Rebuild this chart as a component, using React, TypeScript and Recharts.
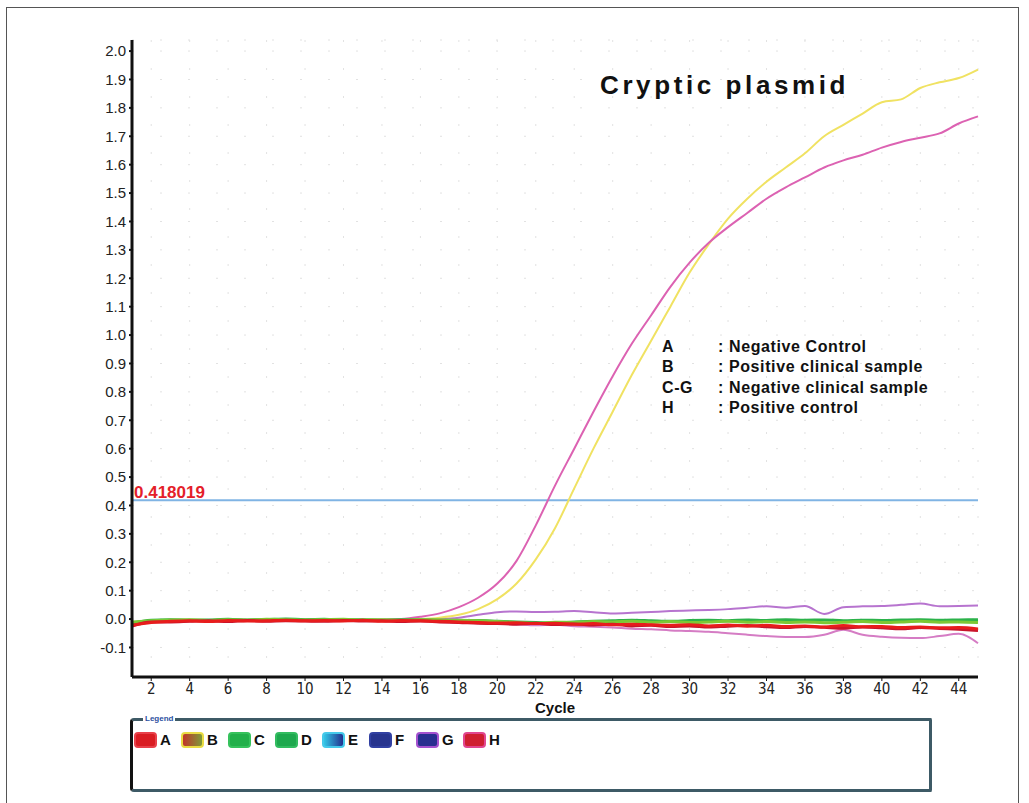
import React from 'react'
import { CartesianGrid, Legend, Line, LineChart, ReferenceLine, XAxis, YAxis } from 'recharts'

// cycle numbers on the x axis
const cycles = [
  1, 2, 3, 4, 5, 6, 7, 8, 9, 10, 11, 12, 13, 14, 15, 16, 17, 18, 19, 20, 21, 22, 23,
  24, 25, 26, 27, 28, 29, 30, 31, 32, 33, 34, 35, 36, 37, 38, 39, 40, 41, 42, 43, 44, 45,
]

// fluorescence per well
const wellA = [
  -0.022, -0.012, -0.008, -0.006, -0.009, -0.005, -0.007, -0.006, -0.004, -0.006,
  -0.005, -0.007, -0.004, -0.008, -0.005, -0.006, -0.008, -0.01, -0.012, -0.014,
  -0.013, -0.016, -0.015, -0.018, -0.016, -0.02, -0.018, -0.02, -0.022, -0.02,
  -0.024, -0.021, -0.025, -0.022, -0.026, -0.024, -0.028, -0.023, -0.027, -0.026,
  -0.03, -0.028, -0.031, -0.03, -0.035,
]
const wellB = [
  -0.015, -0.005, -0.005, -0.003, -0.004, 0.0, -0.002, -0.003, 0.0, -0.002,
  -0.003, -0.002, -0.004, -0.003, -0.002, 0.0, 0.005, 0.015, 0.035, 0.07,
  0.125, 0.21, 0.32, 0.46, 0.6, 0.73, 0.86, 0.98, 1.1, 1.22,
  1.32, 1.41, 1.48, 1.54, 1.59, 1.64, 1.7, 1.74, 1.78, 1.82,
  1.83, 1.87, 1.89, 1.905, 1.935,
]
const wellC = [
  -0.015, -0.004, -0.002, -0.004, -0.003, -0.001, -0.003, -0.002, 0.0, -0.002,
  -0.001, -0.003, -0.002, -0.004, -0.002, -0.003, -0.004, -0.006, -0.005, -0.008,
  -0.01, -0.012, -0.014, -0.01, -0.008, -0.006, -0.004, -0.006, -0.008, -0.005,
  -0.004, -0.006, -0.003, -0.005, -0.002, -0.004, -0.003, -0.006, -0.004, -0.005,
  -0.003, -0.002, -0.004, -0.003, -0.002,
]
const wellD = [
  -0.01, -0.006, -0.003, -0.002, -0.005, -0.002, -0.004, -0.001, -0.002, -0.003,
  -0.002, -0.001, -0.003, -0.002, -0.004, -0.002, -0.003, -0.004, -0.006, -0.009,
  -0.012, -0.015, -0.011, -0.012, -0.009, -0.01, -0.008, -0.011, -0.009, -0.012,
  -0.01, -0.008, -0.011, -0.009, -0.012, -0.01, -0.013, -0.011, -0.009, -0.012,
  -0.01, -0.008, -0.011, -0.01, -0.012,
]
const wellE = [
  -0.018, -0.008, -0.006, -0.005, -0.007, -0.004, -0.006, -0.005, -0.003, -0.005,
  -0.004, -0.006, -0.005, -0.007, -0.005, -0.006, -0.006, -0.01, -0.012, -0.015,
  -0.018, -0.022, -0.02, -0.025, -0.027, -0.03, -0.034, -0.036, -0.04, -0.042,
  -0.045, -0.05, -0.055, -0.06, -0.063, -0.063, -0.055, -0.038, -0.055, -0.062,
  -0.066, -0.067, -0.06, -0.052, -0.085,
]
const wellF = [
  -0.025, -0.01, -0.01, -0.008, -0.006, -0.009, -0.005, -0.008, -0.006, -0.007,
  -0.008, -0.005, -0.007, -0.006, -0.009, -0.007, -0.01, -0.012, -0.015, -0.016,
  -0.018, -0.015, -0.019, -0.017, -0.021, -0.018, -0.024, -0.022, -0.026, -0.024,
  -0.028, -0.025, -0.023, -0.027, -0.03, -0.026, -0.029, -0.032, -0.028, -0.031,
  -0.034, -0.03, -0.033, -0.036, -0.04,
]
const wellG = [
  -0.012, -0.006, -0.004, -0.003, -0.005, -0.002, -0.004, -0.003, -0.001, -0.003,
  -0.002, -0.004, -0.003, -0.004, -0.002, -0.002, 0.0, 0.005, 0.015, 0.024,
  0.027, 0.025, 0.026, 0.028, 0.024, 0.02, 0.022, 0.025, 0.028, 0.03,
  0.032, 0.035, 0.04, 0.045, 0.04, 0.046, 0.018, 0.042, 0.045, 0.046,
  0.05, 0.055, 0.045, 0.046, 0.048,
]
const wellH = [
  -0.02, -0.008, -0.006, -0.004, -0.005, -0.002, -0.003, -0.004, -0.001, -0.002,
  -0.003, -0.003, -0.004, -0.002, 0.0, 0.008, 0.02, 0.042, 0.075, 0.125,
  0.205, 0.33, 0.47, 0.6, 0.73, 0.855, 0.97, 1.07, 1.17, 1.255,
  1.325, 1.38, 1.43, 1.48, 1.52, 1.555, 1.59, 1.615, 1.635, 1.66,
  1.68, 1.695, 1.71, 1.745, 1.77,
]

const threshold = 0.418019
const xTicks = [2, 4, 6, 8, 10, 12, 14, 16, 18, 20, 22, 24, 26, 28, 30, 32, 34, 36, 38, 40, 42, 44]
const yTicks = [-0.1, 0, 0.1, 0.2, 0.3, 0.4, 0.5, 0.6, 0.7, 0.8, 0.9, 1.0, 1.1, 1.2, 1.3, 1.4, 1.5, 1.6, 1.7, 1.8, 1.9, 2.0]

const wellNames = ['A', 'B', 'C', 'D', 'E', 'F', 'G', 'H']
const legendNotes = [
  ['A', ': Negative Control'],
  ['B', ': Positive clinical sample'],
  ['C-G', ': Negative clinical sample'],
  ['H', ': Positive control'],
]

const data = cycles.map((cycle, i) => ({
  cycle,
  A: wellA[i],
  B: wellB[i],
  C: wellC[i],
  D: wellD[i],
  E: wellE[i],
  F: wellF[i],
  G: wellG[i],
  H: wellH[i],
}))

// draw order: baseline wells first, red controls on top like the instrument export
const lines = [
  { key: 'G', color: '#b774cf', width: 2 },
  { key: 'E', color: '#d57cc4', width: 2 },
  { key: 'B', color: '#f0e262', width: 2 },
  { key: 'H', color: '#dc62b2', width: 2 },
  { key: 'C', color: '#2bb24a', width: 3 },
  { key: 'D', color: '#7cc834', width: 3 },
  { key: 'F', color: '#c8142c', width: 3 },
  { key: 'A', color: '#e81c1c', width: 3 },
]

const swatches: Record<string, { bg: string; border: string }> = {
  A: { bg: '#d91c22', border: '#e8404a' },
  B: { bg: 'linear-gradient(90deg, #c0362a, #7e9a3a)', border: '#e9dc44' },
  C: { bg: '#22b04a', border: '#36c25c' },
  D: { bg: '#1ea84e', border: '#32bc60' },
  E: { bg: 'linear-gradient(90deg, #33c6e6, #23308e)', border: '#45c9ea' },
  F: { bg: '#27348e', border: '#3140a2' },
  G: { bg: '#2a3090', border: '#a552cf' },
  H: { bg: '#cf1f30', border: '#e1468f' },
}

const sans = '"Liberation Sans", Arial, sans-serif'
const narrow = '"Liberation Sans Narrow", "DejaVu Sans Condensed", "Liberation Sans", sans-serif'

function WellLegend() {
  return (
    <div
      style={{
        position: 'relative',
        width: 796,
        height: 68,
        borderTop: '3px solid #3d5a66',
        borderRight: '3px solid #3d5a66',
        borderBottom: '3px solid #3d5a66',
        borderLeft: '3px solid #111',
        borderRadius: '4px 2px 2px 4px',
        background: '#fff',
        fontFamily: sans,
      }}
    >
      <span
        style={{
          position: 'absolute',
          left: 10,
          top: -7,
          fontSize: 8,
          fontWeight: 'bold',
          color: '#2a4fa0',
          background: '#fff',
          padding: '0 2px',
          lineHeight: '10px',
        }}
      >
        Legend
      </span>
      <div style={{ position: 'absolute', left: 1, top: 10, display: 'flex', alignItems: 'center' }}>
        {wellNames.map((name) => (
          <div key={name} style={{ display: 'flex', alignItems: 'center', width: 47 }}>
            <span
              style={{
                display: 'inline-block',
                width: 19,
                height: 12,
                background: swatches[name].bg,
                border: `2px solid ${swatches[name].border}`,
                borderRadius: 4,
              }}
            />
            <span style={{ marginLeft: 3, fontSize: 15, fontWeight: 'bold', color: '#111' }}>{name}</span>
          </div>
        ))}
      </div>
    </div>
  )
}

export default function App() {
  return (
    <div style={{ position: 'absolute', left: 0, top: 0, width: 1029, height: 803, background: '#fff', overflow: 'hidden' }}>
      <div
        style={{
          position: 'absolute',
          left: 6,
          top: 7,
          width: 1011,
          height: 810,
          border: '1px solid #555',
        }}
      />
      <LineChart width={1029} height={803} data={data} margin={{ top: 40, right: 51, bottom: 86, left: 72 }}>
        <CartesianGrid stroke="#e2e2e2" strokeDasharray="2 26" />
        <XAxis
          dataKey="cycle"
          type="number"
          domain={[1, 45]}
          ticks={xTicks}
          height={40}
          interval={0}
          axisLine={{ stroke: '#111', strokeWidth: 3 }}
          tickLine={{ stroke: '#111' }}
          tickSize={4}
          tickMargin={2}
          tick={{ fontFamily: narrow, fontSize: 15, fill: '#222' }}
          label={{ value: 'Cycle', position: 'insideBottom', offset: 4, fontFamily: sans, fontSize: 15, fontWeight: 'bold', fill: '#111' }}
        />
        <XAxis
          xAxisId="top"
          orientation="top"
          dataKey="cycle"
          type="number"
          domain={[1, 45]}
          height={0}
          tick={false}
          tickLine={false}
          axisLine={{ stroke: '#111', strokeWidth: 3 }}
        />
        <YAxis
          type="number"
          domain={[-0.204, 2.039]}
          allowDataOverflow
          ticks={yTicks}
          interval={0}
          width={60}
          tickFormatter={(v: number) => v.toFixed(1)}
          axisLine={{ stroke: '#111', strokeWidth: 3 }}
          tickLine={{ stroke: '#111', strokeWidth: 2 }}
          tickSize={3}
          tickMargin={3}
          tick={{ fontFamily: sans, fontSize: 15, fill: '#222' }}
        />
        <YAxis
          yAxisId="right"
          orientation="right"
          type="number"
          domain={[-0.204, 2.039]}
          width={0}
          tick={false}
          tickLine={false}
          axisLine={{ stroke: '#111', strokeWidth: 3 }}
        />
        <ReferenceLine
          y={threshold}
          stroke="#80b4e4"
          strokeWidth={2}
          label={{
            value: String(threshold),
            position: 'insideBottomLeft',
            offset: 2,
            fill: '#e41e2a',
            fontFamily: sans,
            fontSize: 17,
            fontWeight: 'bold',
          }}
        />
        {lines.map((l) => (
          <Line
            key={l.key}
            dataKey={l.key}
            type="monotone"
            stroke={l.color}
            strokeWidth={l.width}
            dot={false}
            isAnimationActive={false}
          />
        ))}
        <Legend
          layout="horizontal"
          verticalAlign="middle"
          align="center"
          content={() => <WellLegend />}
          wrapperStyle={{ position: 'absolute', left: 130, top: 718, width: 802, height: 74 }}
        />
      </LineChart>
      <div
        style={{
          position: 'absolute',
          left: 600,
          top: 70,
          fontFamily: sans,
          fontSize: 26,
          fontWeight: 'bold',
          letterSpacing: 3.6,
          lineHeight: '30px',
          color: '#111',
          whiteSpace: 'nowrap',
        }}
      >
        Cryptic plasmid
      </div>
      {legendNotes.map(([well, note], i) => (
        <div
          key={well}
          style={{
            position: 'absolute',
            left: 662,
            top: 337 + i * 20.3,
            fontFamily: sans,
            fontSize: 16,
            fontWeight: 'bold',
            lineHeight: '19px',
            color: '#111',
            whiteSpace: 'nowrap',
            letterSpacing: 0.6,
          }}
        >
          <span style={{ display: 'inline-block', width: 56 }}>{well}</span>
          {note}
        </div>
      ))}
    </div>
  )
}
